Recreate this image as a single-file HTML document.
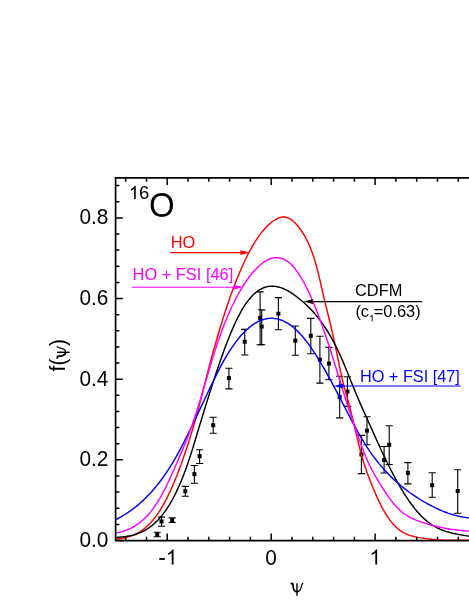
<!DOCTYPE html>
<html><head><meta charset="utf-8"><style>
html,body{margin:0;padding:0;background:#fff;}
body{width:469px;height:607px;overflow:hidden;}
svg{display:block;font-family:"Liberation Sans",sans-serif;will-change:transform;}
</style></head><body>
<svg width="469" height="607" viewBox="0 0 469 607">
<defs><clipPath id="clip"><rect x="115.6" y="177.9" width="400" height="362.70000000000005"/></clipPath></defs>
<rect width="469" height="607" fill="#fff"/>
<g stroke="#000" stroke-width="1.1" fill="#000">
<path d="M157.2,532.3V536.7M153.6,532.3h7.2M153.6,536.7h7.2" fill="none"/>
<rect x="155.2" y="532.5" width="4" height="4" stroke="none"/>
<path d="M161.5,517.1V526.2M157.9,517.1h7.2M157.9,526.2h7.2" fill="none"/>
<rect x="159.5" y="519.4" width="4" height="4" stroke="none"/>
<path d="M172.2,517.9V522.5M168.6,517.9h7.2M168.6,522.5h7.2" fill="none"/>
<rect x="170.2" y="518.2" width="4" height="4" stroke="none"/>
<path d="M185.3,486.4V496.2M181.7,486.4h7.2M181.7,496.2h7.2" fill="none"/>
<rect x="183.3" y="489.2" width="4" height="4" stroke="none"/>
<path d="M194.4,465.5V483.2M190.8,465.5h7.2M190.8,483.2h7.2" fill="none"/>
<rect x="192.4" y="472.2" width="4" height="4" stroke="none"/>
<path d="M199.6,449.7V463.5M196.0,449.7h7.2M196.0,463.5h7.2" fill="none"/>
<rect x="197.6" y="454.2" width="4" height="4" stroke="none"/>
<path d="M213.2,417.2V433.2M209.6,417.2h7.2M209.6,433.2h7.2" fill="none"/>
<rect x="211.2" y="423.2" width="4" height="4" stroke="none"/>
<path d="M228.9,368.2V388.9M225.3,368.2h7.2M225.3,388.9h7.2" fill="none"/>
<rect x="226.9" y="376.1" width="4" height="4" stroke="none"/>
<path d="M244.7,329.4V355.0M241.1,329.4h7.2M241.1,355.0h7.2" fill="none"/>
<rect x="242.7" y="339.7" width="4" height="4" stroke="none"/>
<path d="M260.1,291.9V344.8M256.5,291.9h7.2M256.5,344.8h7.2" fill="none"/>
<rect x="258.1" y="315.9" width="4" height="4" stroke="none"/>
<path d="M261.7,309.9V344.8M258.1,309.9h7.2M258.1,344.8h7.2" fill="none"/>
<rect x="259.7" y="324.6" width="4" height="4" stroke="none"/>
<path d="M278.4,297.6V329.8M274.8,297.6h7.2M274.8,329.8h7.2" fill="none"/>
<rect x="276.4" y="311.6" width="4" height="4" stroke="none"/>
<path d="M295.3,326.0V355.2M291.7,326.0h7.2M291.7,355.2h7.2" fill="none"/>
<rect x="293.3" y="338.6" width="4" height="4" stroke="none"/>
<path d="M310.8,318.4V353.7M307.2,318.4h7.2M307.2,353.7h7.2" fill="none"/>
<rect x="308.8" y="333.8" width="4" height="4" stroke="none"/>
<path d="M319.9,336.3V383.1M316.3,336.3h7.2M316.3,383.1h7.2" fill="none"/>
<rect x="317.9" y="357.7" width="4" height="4" stroke="none"/>
<path d="M328.9,347.4V379.8M325.3,347.4h7.2M325.3,379.8h7.2" fill="none"/>
<rect x="326.9" y="361.6" width="4" height="4" stroke="none"/>
<path d="M339.7,376.3V417.9M336.1,376.3h7.2M336.1,417.9h7.2" fill="none"/>
<rect x="337.7" y="395.1" width="4" height="4" stroke="none"/>
<path d="M347.4,376.8V406.4M343.8,376.8h7.2M343.8,406.4h7.2" fill="none"/>
<rect x="345.4" y="389.6" width="4" height="4" stroke="none"/>
<path d="M361.4,435.4V473.6M357.8,435.4h7.2M357.8,473.6h7.2" fill="none"/>
<rect x="359.4" y="452.5" width="4" height="4" stroke="none"/>
<path d="M367.0,416.7V444.8M363.4,416.7h7.2M363.4,444.8h7.2" fill="none"/>
<rect x="365.0" y="428.7" width="4" height="4" stroke="none"/>
<path d="M384.1,446.5V473.0M380.5,446.5h7.2M380.5,473.0h7.2" fill="none"/>
<rect x="382.1" y="458.0" width="4" height="4" stroke="none"/>
<path d="M389.2,425.7V464.5M385.6,425.7h7.2M385.6,464.5h7.2" fill="none"/>
<rect x="387.2" y="442.8" width="4" height="4" stroke="none"/>
<path d="M407.9,462.6V483.9M404.3,462.6h7.2M404.3,483.9h7.2" fill="none"/>
<rect x="405.9" y="471.0" width="4" height="4" stroke="none"/>
<path d="M432.2,472.8V497.2M428.6,472.8h7.2M428.6,497.2h7.2" fill="none"/>
<rect x="430.2" y="483.2" width="4" height="4" stroke="none"/>
<path d="M457.7,469.7V513.2M454.1,469.7h7.2M454.1,513.2h7.2" fill="none"/>
<rect x="455.7" y="489.0" width="4" height="4" stroke="none"/>
</g>
<g fill="none" stroke-width="1.45" stroke-linejoin="round" clip-path="url(#clip)">
<path d="M100.0,539.8 L101.5,539.8 L103.0,539.7 L104.5,539.6 L106.0,539.6 L107.5,539.5 L109.0,539.5 L110.5,539.4 L112.0,539.3 L113.5,539.2 L115.0,539.1 L116.5,539.0 L118.0,538.9 L119.5,538.7 L121.0,538.5 L122.5,538.3 L124.0,538.0 L125.5,537.7 L127.0,537.3 L128.5,536.9 L130.0,536.4 L131.5,535.9 L133.0,535.3 L134.5,534.7 L136.0,534.0 L137.5,533.2 L139.0,532.3 L140.5,531.4 L142.0,530.4 L143.5,529.3 L145.0,528.1 L146.5,526.8 L148.0,525.4 L149.5,523.9 L151.0,522.3 L152.5,520.6 L154.0,518.8 L155.5,516.9 L157.0,514.8 L158.5,512.7 L160.0,510.4 L161.5,507.9 L163.0,505.4 L164.5,502.7 L166.0,499.8 L167.5,496.9 L169.0,493.8 L170.5,490.6 L172.0,487.2 L173.5,483.7 L175.0,480.1 L176.5,476.4 L178.0,472.6 L179.5,468.6 L181.0,464.6 L182.5,460.4 L184.0,456.1 L185.5,451.8 L187.0,447.3 L188.5,442.7 L190.0,437.9 L191.5,433.0 L193.0,428.0 L194.5,422.8 L196.0,417.5 L197.5,412.0 L199.0,406.4 L200.5,400.6 L202.0,394.7 L203.5,388.7 L205.0,382.8 L206.5,376.9 L208.0,371.1 L209.5,365.4 L211.0,359.8 L212.5,354.3 L214.0,348.9 L215.5,343.6 L217.0,338.4 L218.5,333.3 L220.0,328.3 L221.5,323.4 L223.0,318.6 L224.5,313.9 L226.0,309.3 L227.5,304.8 L229.0,300.4 L230.5,296.1 L232.0,292.0 L233.5,287.9 L235.0,283.9 L236.5,280.1 L238.0,276.3 L239.5,272.7 L241.0,269.2 L242.5,265.8 L244.0,262.5 L245.5,259.3 L247.0,256.3 L248.5,253.3 L250.0,250.5 L251.5,247.8 L253.0,245.2 L254.5,242.7 L256.0,240.3 L257.5,238.1 L259.0,235.9 L260.5,233.9 L262.0,232.0 L263.5,230.2 L265.0,228.5 L266.5,226.9 L268.0,225.4 L269.5,224.0 L271.0,222.7 L272.5,221.5 L274.0,220.5 L275.5,219.5 L277.0,218.7 L278.5,218.0 L280.0,217.5 L281.5,217.1 L283.0,217.0 L284.5,217.0 L286.0,217.3 L287.5,217.7 L289.0,218.4 L290.5,219.2 L292.0,220.3 L293.5,221.5 L295.0,222.9 L296.5,224.5 L298.0,226.3 L299.5,228.2 L301.0,230.2 L302.5,232.5 L304.0,234.9 L305.5,237.5 L307.0,240.3 L308.5,243.5 L310.0,246.9 L311.5,250.7 L313.0,254.9 L314.5,259.5 L316.0,264.6 L317.5,270.1 L319.0,276.2 L320.5,282.7 L322.0,289.4 L323.5,296.0 L325.0,302.3 L326.5,308.4 L328.0,314.3 L329.5,320.3 L331.0,326.5 L332.5,333.1 L334.0,339.9 L335.5,346.9 L337.0,354.2 L338.5,361.6 L340.0,368.8 L341.5,375.7 L343.0,382.1 L344.5,387.9 L346.0,393.4 L347.5,398.8 L349.0,404.3 L350.5,410.1 L352.0,416.2 L353.5,422.4 L355.0,428.8 L356.5,435.1 L358.0,441.4 L359.5,447.4 L361.0,453.2 L362.5,458.5 L364.0,463.5 L365.5,468.0 L367.0,472.2 L368.5,476.4 L370.0,480.3 L371.5,484.2 L373.0,487.9 L374.5,491.5 L376.0,494.9 L377.5,498.2 L379.0,501.4 L380.5,504.5 L382.0,507.3 L383.5,510.1 L385.0,512.7 L386.5,515.1 L388.0,517.4 L389.5,519.6 L391.0,521.6 L392.5,523.4 L394.0,525.1 L395.5,526.6 L397.0,528.0 L398.5,529.3 L400.0,530.4 L401.5,531.4 L403.0,532.4 L404.5,533.2 L406.0,533.9 L407.5,534.5 L409.0,535.1 L410.5,535.6 L412.0,536.0 L413.5,536.4 L415.0,536.8 L416.5,537.1 L418.0,537.4 L419.5,537.6 L421.0,537.9 L422.5,538.1 L424.0,538.3 L425.5,538.6 L427.0,538.8 L428.5,538.9 L430.0,539.1 L431.5,539.3 L433.0,539.4 L434.5,539.5 L436.0,539.6 L437.5,539.8 L439.0,539.9 L440.5,539.9 L442.0,540.0 L443.5,540.1 L445.0,540.1 L446.5,540.2 L448.0,540.2 L449.5,540.3 L451.0,540.3 L452.5,540.3 L454.0,540.3 L455.5,540.3 L457.0,540.3 L458.5,540.3 L460.0,540.3 L461.5,540.3 L463.0,540.3 L464.5,540.3 L466.0,540.3 L467.5,540.2 L469.0,540.2" stroke="#ff0000"/>
<path d="M100.0,538.9 L101.5,538.6 L103.0,538.4 L104.5,538.3 L106.0,538.1 L107.5,538.0 L109.0,537.9 L110.5,537.8 L112.0,537.7 L113.5,537.6 L115.0,537.5 L116.5,537.4 L118.0,537.3 L119.5,537.2 L121.0,537.0 L122.5,536.9 L124.0,536.7 L125.5,536.5 L127.0,536.3 L128.5,536.0 L130.0,535.8 L131.5,535.4 L133.0,535.1 L134.5,534.7 L136.0,534.2 L137.5,533.7 L139.0,533.1 L140.5,532.5 L142.0,531.9 L143.5,531.1 L145.0,530.3 L146.5,529.4 L148.0,528.5 L149.5,527.4 L151.0,526.3 L152.5,525.1 L154.0,523.8 L155.5,522.4 L157.0,521.0 L158.5,519.4 L160.0,517.7 L161.5,516.0 L163.0,514.1 L164.5,512.1 L166.0,510.0 L167.5,507.7 L169.0,505.4 L170.5,502.9 L172.0,500.3 L173.5,497.5 L175.0,494.6 L176.5,491.6 L178.0,488.4 L179.5,485.0 L181.0,481.5 L182.5,477.8 L184.0,474.0 L185.5,470.0 L187.0,465.8 L188.5,461.4 L190.0,456.9 L191.5,452.2 L193.0,447.4 L194.5,442.5 L196.0,437.5 L197.5,432.5 L199.0,427.5 L200.5,422.5 L202.0,417.6 L203.5,412.7 L205.0,407.8 L206.5,403.0 L208.0,398.2 L209.5,393.5 L211.0,388.8 L212.5,384.1 L214.0,379.5 L215.5,375.0 L217.0,370.5 L218.5,366.1 L220.0,361.7 L221.5,357.4 L223.0,353.2 L224.5,349.1 L226.0,345.1 L227.5,341.2 L229.0,337.4 L230.5,333.7 L232.0,330.1 L233.5,326.7 L235.0,323.4 L236.5,320.2 L238.0,317.1 L239.5,314.3 L241.0,311.5 L242.5,308.9 L244.0,306.5 L245.5,304.2 L247.0,302.1 L248.5,300.1 L250.0,298.3 L251.5,296.6 L253.0,295.1 L254.5,293.6 L256.0,292.4 L257.5,291.2 L259.0,290.2 L260.5,289.3 L262.0,288.5 L263.5,287.8 L265.0,287.3 L266.5,286.9 L268.0,286.5 L269.5,286.3 L271.0,286.2 L272.5,286.2 L274.0,286.3 L275.5,286.4 L277.0,286.7 L278.5,287.0 L280.0,287.4 L281.5,287.9 L283.0,288.5 L284.5,289.2 L286.0,289.9 L287.5,290.7 L289.0,291.5 L290.5,292.4 L292.0,293.4 L293.5,294.4 L295.0,295.5 L296.5,296.6 L298.0,297.8 L299.5,299.0 L301.0,300.2 L302.5,301.5 L304.0,302.8 L305.5,304.1 L307.0,305.5 L308.5,307.0 L310.0,308.5 L311.5,310.1 L313.0,311.7 L314.5,313.4 L316.0,315.2 L317.5,317.0 L319.0,318.9 L320.5,320.9 L322.0,323.0 L323.5,325.1 L325.0,327.3 L326.5,329.6 L328.0,332.0 L329.5,334.5 L331.0,337.1 L332.5,339.8 L334.0,342.6 L335.5,345.5 L337.0,348.5 L338.5,351.6 L340.0,354.8 L341.5,358.2 L343.0,361.6 L344.5,365.2 L346.0,368.9 L347.5,372.6 L349.0,376.4 L350.5,380.1 L352.0,383.8 L353.5,387.5 L355.0,391.1 L356.5,394.7 L358.0,398.2 L359.5,401.7 L361.0,405.2 L362.5,408.6 L364.0,412.0 L365.5,415.3 L367.0,418.6 L368.5,422.0 L370.0,425.3 L371.5,428.6 L373.0,432.0 L374.5,435.3 L376.0,438.6 L377.5,442.0 L379.0,445.2 L380.5,448.5 L382.0,451.7 L383.5,454.9 L385.0,458.1 L386.5,461.2 L388.0,464.2 L389.5,467.2 L391.0,470.2 L392.5,473.1 L394.0,475.9 L395.5,478.7 L397.0,481.4 L398.5,484.1 L400.0,486.7 L401.5,489.2 L403.0,491.7 L404.5,494.1 L406.0,496.4 L407.5,498.7 L409.0,500.9 L410.5,503.0 L412.0,505.0 L413.5,507.0 L415.0,508.9 L416.5,510.7 L418.0,512.5 L419.5,514.1 L421.0,515.7 L422.5,517.2 L424.0,518.6 L425.5,519.9 L427.0,521.2 L428.5,522.4 L430.0,523.5 L431.5,524.5 L433.0,525.5 L434.5,526.4 L436.0,527.2 L437.5,528.0 L439.0,528.7 L440.5,529.4 L442.0,530.0 L443.5,530.5 L445.0,531.1 L446.5,531.6 L448.0,532.0 L449.5,532.4 L451.0,532.8 L452.5,533.2 L454.0,533.5 L455.5,533.8 L457.0,534.1 L458.5,534.4 L460.0,534.7 L461.5,534.9 L463.0,535.2 L464.5,535.4 L466.0,535.7 L467.5,535.9 L469.0,536.2" stroke="#000"/>
<path d="M100.0,526.6 L101.5,526.0 L103.0,525.4 L104.5,524.8 L106.0,524.2 L107.5,523.6 L109.0,522.9 L110.5,522.2 L112.0,521.5 L113.5,520.8 L115.0,520.0 L116.5,519.3 L118.0,518.5 L119.5,517.7 L121.0,516.8 L122.5,515.9 L124.0,515.0 L125.5,514.1 L127.0,513.1 L128.5,512.1 L130.0,511.1 L131.5,510.0 L133.0,508.9 L134.5,507.8 L136.0,506.6 L137.5,505.4 L139.0,504.1 L140.5,502.8 L142.0,501.4 L143.5,500.1 L145.0,498.6 L146.5,497.1 L148.0,495.6 L149.5,494.0 L151.0,492.4 L152.5,490.7 L154.0,489.0 L155.5,487.2 L157.0,485.4 L158.5,483.5 L160.0,481.5 L161.5,479.5 L163.0,477.5 L164.5,475.3 L166.0,473.1 L167.5,470.9 L169.0,468.6 L170.5,466.2 L172.0,463.8 L173.5,461.3 L175.0,458.7 L176.5,456.1 L178.0,453.4 L179.5,450.6 L181.0,447.8 L182.5,445.0 L184.0,442.1 L185.5,439.1 L187.0,436.1 L188.5,433.1 L190.0,430.0 L191.5,427.0 L193.0,423.8 L194.5,420.7 L196.0,417.6 L197.5,414.4 L199.0,411.2 L200.5,408.0 L202.0,404.9 L203.5,401.7 L205.0,398.5 L206.5,395.3 L208.0,392.2 L209.5,389.0 L211.0,385.9 L212.5,382.8 L214.0,379.7 L215.5,376.6 L217.0,373.6 L218.5,370.6 L220.0,367.7 L221.5,364.9 L223.0,362.1 L224.5,359.4 L226.0,356.8 L227.5,354.3 L229.0,351.9 L230.5,349.6 L232.0,347.3 L233.5,345.1 L235.0,343.1 L236.5,341.1 L238.0,339.2 L239.5,337.3 L241.0,335.6 L242.5,333.9 L244.0,332.4 L245.5,330.9 L247.0,329.5 L248.5,328.1 L250.0,326.9 L251.5,325.7 L253.0,324.7 L254.5,323.7 L256.0,322.8 L257.5,321.9 L259.0,321.2 L260.5,320.5 L262.0,320.0 L263.5,319.5 L265.0,319.1 L266.5,318.8 L268.0,318.5 L269.5,318.4 L271.0,318.3 L272.5,318.3 L274.0,318.5 L275.5,318.6 L277.0,318.9 L278.5,319.3 L280.0,319.7 L281.5,320.2 L283.0,320.9 L284.5,321.6 L286.0,322.3 L287.5,323.2 L289.0,324.1 L290.5,325.2 L292.0,326.3 L293.5,327.5 L295.0,328.8 L296.5,330.2 L298.0,331.6 L299.5,333.2 L301.0,334.8 L302.5,336.5 L304.0,338.3 L305.5,340.2 L307.0,342.1 L308.5,344.1 L310.0,346.2 L311.5,348.4 L313.0,350.6 L314.5,352.8 L316.0,355.2 L317.5,357.6 L319.0,360.0 L320.5,362.5 L322.0,365.0 L323.5,367.6 L325.0,370.2 L326.5,372.9 L328.0,375.6 L329.5,378.3 L331.0,381.0 L332.5,383.8 L334.0,386.6 L335.5,389.5 L337.0,392.3 L338.5,395.2 L340.0,398.1 L341.5,400.9 L343.0,403.8 L344.5,406.7 L346.0,409.6 L347.5,412.5 L349.0,415.4 L350.5,418.3 L352.0,421.1 L353.5,423.9 L355.0,426.7 L356.5,429.4 L358.0,432.1 L359.5,434.8 L361.0,437.4 L362.5,439.9 L364.0,442.4 L365.5,444.8 L367.0,447.2 L368.5,449.4 L370.0,451.7 L371.5,453.8 L373.0,455.9 L374.5,457.9 L376.0,459.8 L377.5,461.7 L379.0,463.6 L380.5,465.4 L382.0,467.1 L383.5,468.8 L385.0,470.5 L386.5,472.1 L388.0,473.7 L389.5,475.2 L391.0,476.7 L392.5,478.2 L394.0,479.6 L395.5,481.0 L397.0,482.3 L398.5,483.6 L400.0,484.9 L401.5,486.2 L403.0,487.4 L404.5,488.6 L406.0,489.7 L407.5,490.9 L409.0,492.0 L410.5,493.0 L412.0,494.1 L413.5,495.1 L415.0,496.1 L416.5,497.1 L418.0,498.1 L419.5,499.0 L421.0,500.0 L422.5,500.9 L424.0,501.8 L425.5,502.6 L427.0,503.5 L428.5,504.3 L430.0,505.1 L431.5,505.9 L433.0,506.7 L434.5,507.4 L436.0,508.1 L437.5,508.8 L439.0,509.5 L440.5,510.1 L442.0,510.8 L443.5,511.4 L445.0,512.0 L446.5,512.5 L448.0,513.1 L449.5,513.6 L451.0,514.1 L452.5,514.5 L454.0,515.0 L455.5,515.4 L457.0,515.8 L458.5,516.1 L460.0,516.5 L461.5,516.8 L463.0,517.1 L464.5,517.3 L466.0,517.6 L467.5,517.8 L469.0,517.9" stroke="#0000ff"/>
<path d="M100.0,537.0 L101.5,536.6 L103.0,536.2 L104.5,535.8 L106.0,535.5 L107.5,535.2 L109.0,534.8 L110.5,534.5 L112.0,534.2 L113.5,533.9 L115.0,533.5 L116.5,533.1 L118.0,532.8 L119.5,532.4 L121.0,531.9 L122.5,531.5 L124.0,531.0 L125.5,530.4 L127.0,529.9 L128.5,529.2 L130.0,528.6 L131.5,527.8 L133.0,527.0 L134.5,526.2 L136.0,525.2 L137.5,524.2 L139.0,523.2 L140.5,522.0 L142.0,520.8 L143.5,519.5 L145.0,518.0 L146.5,516.5 L148.0,514.9 L149.5,513.2 L151.0,511.4 L152.5,509.4 L154.0,507.4 L155.5,505.2 L157.0,503.0 L158.5,500.6 L160.0,498.1 L161.5,495.5 L163.0,492.7 L164.5,489.8 L166.0,486.9 L167.5,483.8 L169.0,480.6 L170.5,477.3 L172.0,474.0 L173.5,470.7 L175.0,467.2 L176.5,463.8 L178.0,460.4 L179.5,456.9 L181.0,453.4 L182.5,449.9 L184.0,446.3 L185.5,442.7 L187.0,438.9 L188.5,435.1 L190.0,431.1 L191.5,426.9 L193.0,422.6 L194.5,418.2 L196.0,413.5 L197.5,408.8 L199.0,403.9 L200.5,398.9 L202.0,393.9 L203.5,388.9 L205.0,383.8 L206.5,378.7 L208.0,373.6 L209.5,368.5 L211.0,363.5 L212.5,358.6 L214.0,353.8 L215.5,349.1 L217.0,344.5 L218.5,340.1 L220.0,335.9 L221.5,331.7 L223.0,327.7 L224.5,323.8 L226.0,320.1 L227.5,316.5 L229.0,313.0 L230.5,309.6 L232.0,306.3 L233.5,303.2 L235.0,300.2 L236.5,297.3 L238.0,294.5 L239.5,291.9 L241.0,289.3 L242.5,286.8 L244.0,284.5 L245.5,282.2 L247.0,280.1 L248.5,278.0 L250.0,276.0 L251.5,274.1 L253.0,272.3 L254.5,270.6 L256.0,269.0 L257.5,267.4 L259.0,266.0 L260.5,264.7 L262.0,263.5 L263.5,262.3 L265.0,261.3 L266.5,260.4 L268.0,259.7 L269.5,259.0 L271.0,258.5 L272.5,258.1 L274.0,257.8 L275.5,257.6 L277.0,257.6 L278.5,257.7 L280.0,258.0 L281.5,258.4 L283.0,258.9 L284.5,259.6 L286.0,260.4 L287.5,261.4 L289.0,262.5 L290.5,263.8 L292.0,265.3 L293.5,266.9 L295.0,268.7 L296.5,270.6 L298.0,272.8 L299.5,275.0 L301.0,277.4 L302.5,280.0 L304.0,282.7 L305.5,285.5 L307.0,288.5 L308.5,291.6 L310.0,294.9 L311.5,298.2 L313.0,301.7 L314.5,305.4 L316.0,309.1 L317.5,312.9 L319.0,316.9 L320.5,320.9 L322.0,325.1 L323.5,329.4 L325.0,333.7 L326.5,338.2 L328.0,342.7 L329.5,347.3 L331.0,352.0 L332.5,356.8 L334.0,361.6 L335.5,366.4 L337.0,371.3 L338.5,376.2 L340.0,381.1 L341.5,386.0 L343.0,390.9 L344.5,395.7 L346.0,400.4 L347.5,405.1 L349.0,409.8 L350.5,414.3 L352.0,418.8 L353.5,423.2 L355.0,427.5 L356.5,431.8 L358.0,436.1 L359.5,440.3 L361.0,444.5 L362.5,448.6 L364.0,452.5 L365.5,456.3 L367.0,459.8 L368.5,463.1 L370.0,466.2 L371.5,469.1 L373.0,471.9 L374.5,474.5 L376.0,477.1 L377.5,479.7 L379.0,482.2 L380.5,484.7 L382.0,487.1 L383.5,489.5 L385.0,491.7 L386.5,494.0 L388.0,496.1 L389.5,498.2 L391.0,500.2 L392.5,502.1 L394.0,504.0 L395.5,505.7 L397.0,507.3 L398.5,508.9 L400.0,510.3 L401.5,511.7 L403.0,512.9 L404.5,514.0 L406.0,515.0 L407.5,516.0 L409.0,516.8 L410.5,517.6 L412.0,518.4 L413.5,519.0 L415.0,519.7 L416.5,520.3 L418.0,520.9 L419.5,521.4 L421.0,521.9 L422.5,522.5 L424.0,522.9 L425.5,523.4 L427.0,523.9 L428.5,524.3 L430.0,524.8 L431.5,525.2 L433.0,525.6 L434.5,526.0 L436.0,526.3 L437.5,526.7 L439.0,527.0 L440.5,527.3 L442.0,527.6 L443.5,527.9 L445.0,528.2 L446.5,528.5 L448.0,528.7 L449.5,529.0 L451.0,529.2 L452.5,529.4 L454.0,529.6 L455.5,529.8 L457.0,530.0 L458.5,530.2 L460.0,530.4 L461.5,530.5 L463.0,530.7 L464.5,530.8 L466.0,530.9 L467.5,531.1 L469.0,531.2" stroke="#ff00ff"/>
</g>
<g stroke="#000" stroke-width="1.7" fill="none">
<path d="M480,177.9H115.6V540.6H480"/>
</g>
<g stroke="#000" stroke-width="1.5" fill="none">
<path d="M125.7,540.6v-3.8M125.7,177.9v3.8M146.5,540.6v-3.8M146.5,177.9v3.8M167.2,540.6v-7M167.2,177.9v7M188.0,540.6v-3.8M188.0,177.9v3.8M208.8,540.6v-3.8M208.8,177.9v3.8M229.6,540.6v-3.8M229.6,177.9v3.8M250.4,540.6v-3.8M250.4,177.9v3.8M271.2,540.6v-7M271.2,177.9v7M292.0,540.6v-3.8M292.0,177.9v3.8M312.8,540.6v-3.8M312.8,177.9v3.8M333.6,540.6v-3.8M333.6,177.9v3.8M354.4,540.6v-3.8M354.4,177.9v3.8M375.1,540.6v-7M375.1,177.9v7M395.9,540.6v-3.8M395.9,177.9v3.8M416.7,540.6v-3.8M416.7,177.9v3.8M437.5,540.6v-3.8M437.5,177.9v3.8M458.3,540.6v-3.8M458.3,177.9v3.8M479.1,540.6v-7M479.1,177.9v7M115.6,540.5h7.2M115.6,524.4h3.8M115.6,508.2h3.8M115.6,492.1h3.8M115.6,476.0h3.8M115.6,459.8h7.2M115.6,443.7h3.8M115.6,427.6h3.8M115.6,411.4h3.8M115.6,395.3h3.8M115.6,379.2h7.2M115.6,363.0h3.8M115.6,346.9h3.8M115.6,330.8h3.8M115.6,314.7h3.8M115.6,298.5h7.2M115.6,282.4h3.8M115.6,266.3h3.8M115.6,250.1h3.8M115.6,234.0h3.8M115.6,217.9h7.2M115.6,201.7h3.8M115.6,185.6h3.8"/>
</g>
<path d="M170.1,252.6H244.8" stroke="#ff0000" stroke-width="1.1" fill="none"/><path d="M249.8,252.6l-9.5,-2.4v4.8z" fill="#ff0000"/>
<path d="M131.8,287.2H238.2" stroke="#ff00ff" stroke-width="1.1" fill="none"/><path d="M243.2,287.2l-9.5,-2.4v4.8z" fill="#ff00ff"/>
<path d="M308.3,301.6H422" stroke="#000" stroke-width="1.1" fill="none"/><path d="M303.3,301.6l9.5,-2.4v4.8z" fill="#000"/>
<path d="M338.8,386.0H460.6" stroke="#0000ff" stroke-width="1.1" fill="none"/><path d="M333.8,386.0l9.5,-2.4v4.8z" fill="#0000ff"/>
<text transform="translate(108.3,547.1) scale(1,1.04)" font-size="20.8" fill="#000" text-anchor="end" >0.0</text>
<text transform="translate(108.3,466.44) scale(1,1.04)" font-size="20.8" fill="#000" text-anchor="end" >0.2</text>
<text transform="translate(108.3,385.78) scale(1,1.04)" font-size="20.8" fill="#000" text-anchor="end" >0.4</text>
<text transform="translate(108.3,305.12) scale(1,1.04)" font-size="20.8" fill="#000" text-anchor="end" >0.6</text>
<text transform="translate(108.3,224.45999999999995) scale(1,1.04)" font-size="20.8" fill="#000" text-anchor="end" >0.8</text>
<text transform="translate(271.1,564.9) scale(1,1.04)" font-size="20.8" fill="#000" text-anchor="middle" >0</text>
<path transform="translate(369.4,564.4) scale(0.01016,-0.01016)" fill="#000" d="M763 0L583 0L583 1147Q518 1085 412.5 1023Q307 961 223 930L223 1104Q374 1175 487 1276Q600 1377 647 1472L763 1472Z"/>
<path transform="translate(165.8,564.4) scale(0.01016,-0.01016)" fill="#000" d="M763 0L583 0L583 1147Q518 1085 412.5 1023Q307 961 223 930L223 1104Q374 1175 487 1276Q600 1377 647 1472L763 1472Z"/>
<path transform="translate(158.6,564.4) scale(0.01016,-0.01016)" fill="#000" d="M65 440L65 621L618 621L618 440Z"/>
<path transform="translate(128.9,199.0) scale(0.00898,-0.00898)" fill="#000" d="M763 0L583 0L583 1147Q518 1085 412.5 1023Q307 961 223 930L223 1104Q374 1175 487 1276Q600 1377 647 1472L763 1472Z"/>
<text transform="translate(139.1,199.2) scale(1,1.04)" font-size="18.4" fill="#000" text-anchor="start" >6</text>
<text transform="translate(149.1,216.9) scale(1,1.04)" font-size="33" fill="#000" text-anchor="start" >O</text>
<text transform="translate(170.7,247.5) scale(1,1.04)" font-size="16.4" fill="#ff0000" text-anchor="start" >HO</text>
<text transform="translate(132.6,280.2) scale(1,1.04)" font-size="16.4" fill="#ff00ff" text-anchor="start" >HO + FSI [46]</text>
<text transform="translate(359.9,381.8) scale(1,1.04)" font-size="16.3" fill="#0000ff" text-anchor="start" >HO + FSI [47]</text>
<text transform="translate(355.0,296) scale(1,1.04)" font-size="16.4" fill="#000" text-anchor="start" >CDFM</text>
<text transform="translate(355.4,316.6) scale(1,1.04)" font-size="16.4" fill="#000" text-anchor="start" >(c</text>
<path transform="translate(369.0,321.6) scale(0.00469,-0.00469)" fill="#000" d="M763 0L583 0L583 1147Q518 1085 412.5 1023Q307 961 223 930L223 1104Q374 1175 487 1276Q600 1377 647 1472L763 1472Z"/>
<text transform="translate(373.7,316.6) scale(1,1.04)" font-size="16.4" fill="#000" text-anchor="start" >=0.63)</text>
<g transform="translate(65.3,371.4) rotate(-90)"><text transform="scale(1,1.04)" font-size="20.8" fill="#000">f(</text><g transform="translate(19.1,0)" stroke="#000" fill="none"><path d="M0,-8.2V4.3" stroke-width="1.45"/><path d="M-6.4,-7.7 L-5.0,-8.1 C-3.7,-8.3 -4.1,-6 -3.8,-4.4 C-3.4,-2.0 -2.4,0.3 0,0.3" stroke-width="1.75"/><path d="M0,0.3 C2.4,0.3 3.7,-2 4.2,-4.6 C4.6,-6.8 4.7,-7.9 6.2,-8.4" stroke-width="1.3"/></g><text transform="translate(25.3,0) scale(1,1.04)" font-size="20.8" fill="#000">)</text></g>
<g transform="translate(297,591.5)" stroke="#000" fill="none"><path d="M0,-8.2V4.3" stroke-width="1.45"/><path d="M-6.4,-7.7 L-5.0,-8.1 C-3.7,-8.3 -4.1,-6 -3.8,-4.4 C-3.4,-2.0 -2.4,0.3 0,0.3" stroke-width="1.75"/><path d="M0,0.3 C2.4,0.3 3.7,-2 4.2,-4.6 C4.6,-6.8 4.7,-7.9 6.2,-8.4" stroke-width="1.3"/></g>
</svg>
</body></html>
